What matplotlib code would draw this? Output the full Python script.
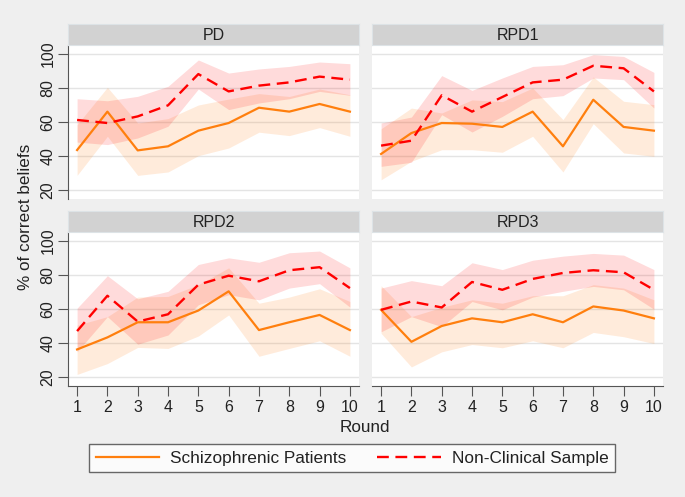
import numpy as np
import matplotlib
matplotlib.use('Agg')
import matplotlib.pyplot as plt

plt.rcParams['font.family'] = ['Liberation Sans', 'DejaVu Sans']
plt.rcParams['font.size'] = 12

rounds = np.arange(1, 11)
panels = ['PD', 'RPD1', 'RPD2', 'RPD3']

# Schizophrenic patients: mean, lower CI, upper CI
sz_mean = {
    'PD':   [43.5, 66.1, 43.3, 45.7, 54.9, 59.4, 68.4, 66.1, 70.6, 66.1],
    'RPD1': [41.2, 53.5, 59.4, 59.0, 57.1, 66.1, 45.7, 73.1, 57.1, 54.9],
    'RPD2': [36.2, 43.3, 52.2, 52.2, 59.1, 70.4, 47.6, 52.2, 56.5, 47.6],
    'RPD3': [59.5, 40.7, 50.0, 54.5, 52.2, 56.9, 52.2, 61.5, 59.1, 54.5],
}
sz_low = {
    'PD':   [28.6, 51.6, 28.6, 30.6, 40.2, 44.7, 54.0, 52.0, 56.7, 51.6],
    'RPD1': [26.0, 36.9, 43.7, 43.7, 42.2, 51.6, 30.6, 59.0, 41.8, 39.8],
    'RPD2': [21.5, 27.9, 37.4, 36.8, 44.1, 56.5, 32.2, 36.8, 41.3, 32.2],
    'RPD3': [45.7, 25.9, 34.8, 39.1, 37.2, 41.3, 37.2, 46.2, 43.7, 39.7],
}
sz_high = {
    'PD':   [58.4, 80.4, 59.4, 62.0, 70.0, 73.5, 76.7, 75.0, 79.4, 76.0],
    'RPD1': [56.0, 68.2, 65.3, 73.0, 72.0, 80.0, 61.4, 86.5, 72.2, 70.2],
    'RPD2': [50.5, 55.5, 67.0, 67.4, 74.3, 84.2, 63.4, 67.0, 71.9, 64.4],
    'RPD3': [73.7, 55.5, 61.0, 65.4, 63.4, 67.8, 67.8, 74.3, 72.3, 65.4],
}

# Non-clinical sample: mean, lower CI, upper CI
nc_mean = {
    'PD':   [61.2, 59.4, 63.3, 69.8, 88.2, 78.0, 81.4, 83.3, 86.7, 84.9],
    'RPD1': [46.1, 49.0, 75.7, 66.1, 74.7, 83.3, 84.9, 93.1, 91.6, 78.0],
    'RPD2': [47.0, 67.8, 52.6, 56.9, 74.3, 79.6, 76.3, 82.8, 84.6, 72.3],
    'RPD3': [59.5, 64.4, 60.9, 75.9, 71.3, 77.7, 81.2, 82.8, 81.6, 71.3],
}
nc_low = {
    'PD':   [48.2, 46.7, 50.6, 57.5, 79.4, 67.3, 71.2, 73.7, 78.0, 75.7],
    'RPD1': [33.9, 36.3, 64.3, 54.1, 63.3, 73.7, 75.5, 85.9, 84.9, 68.2],
    'RPD2': [34.8, 55.5, 39.3, 44.7, 62.5, 68.4, 65.4, 72.3, 74.9, 61.1],
    'RPD3': [46.6, 55.5, 49.6, 64.4, 59.5, 67.0, 70.4, 73.3, 71.3, 59.9],
}
nc_high = {
    'PD':   [73.7, 72.5, 75.1, 81.0, 96.5, 88.8, 91.2, 92.7, 95.3, 94.3],
    'RPD1': [59.4, 62.9, 87.3, 78.6, 85.9, 92.7, 93.7, 99.6, 98.6, 89.2],
    'RPD2': [60.5, 79.6, 66.0, 70.4, 86.2, 90.1, 87.5, 93.1, 94.1, 84.2],
    'RPD3': [72.3, 76.7, 73.7, 87.2, 83.2, 88.7, 91.1, 92.7, 91.7, 83.2],
}

orange = '#ff7f0e'
red = '#ff0000'
W, H = 685, 497

fig = plt.figure(figsize=(W / 100, H / 100), dpi=100, facecolor='#efefef')

# pixel boxes: (left, top of plot, right, bottom of plot)
boxes = {
    'PD':   (68, 45, 359, 199),
    'RPD1': (372, 45, 663, 199),
    'RPD2': (68, 232, 359, 386),
    'RPD3': (372, 232, 663, 386),
}
header_h = 21

for i, name in enumerate(panels):
    l, t, r, b = boxes[name]
    ax = fig.add_axes([l / W, (H - b) / H, (r - l) / W, (b - t) / H])
    ax.set_facecolor('white')

    ax.fill_between(rounds, sz_low[name], sz_high[name], color=orange, alpha=0.15, lw=0)
    ax.fill_between(rounds, nc_low[name], nc_high[name], color=red, alpha=0.14, lw=0)
    ax.plot(rounds, sz_mean[name], color=orange, lw=1.6, label='Schizophrenic Patients')
    ax.plot(rounds, nc_mean[name], color=red, lw=1.7, ls=(0, (5, 2.8)), label='Non-Clinical Sample')

    ax.set_xlim(0.7, 10.3)
    ax.set_ylim(14.7, 105.3)
    ax.set_yticks([20, 40, 60, 80, 100])
    ax.grid(axis='y', color='#e4e4e4', lw=1)
    ax.set_axisbelow(True)
    for s in ['top', 'right']:
        ax.spines[s].set_visible(False)

    left_col = i % 2 == 0
    bottom_row = i >= 2
    if left_col:
        ax.spines['left'].set_color('#555555')
        ax.tick_params(axis='y', length=7, color='#555555', labelsize=11.5, pad=2,
                       labelcolor='#222222')
        for lab in ax.get_yticklabels():
            lab.set_rotation(90)
            lab.set_va('center')
    else:
        ax.spines['left'].set_visible(False)
        ax.tick_params(axis='y', length=0, labelleft=False)
    if bottom_row:
        ax.spines['bottom'].set_color('#555555')
        ax.set_xticks(rounds)
        ax.tick_params(axis='x', length=7, color='#555555', labelsize=11.5, pad=3,
                       labelcolor='#222222')
    else:
        ax.spines['bottom'].set_visible(False)
        ax.tick_params(axis='x', length=0, labelbottom=False)

    # panel header strip
    hx = fig.add_axes([l / W, (H - t) / H, (r - l) / W, header_h / H])
    hx.set_facecolor('#d2d2d2')
    hx.set_xticks([])
    hx.set_yticks([])
    for s in hx.spines.values():
        s.set_color('#dde3e6')
    hx.text(0.5, 0.45, name, ha='center', va='center', fontsize=11.5, color='#222222',
            transform=hx.transAxes)

fig.text(26 / W, 1 - 217 / H, '% of correct beliefs', rotation=90, ha='center', va='center',
         fontsize=12.3, color='#222222')
fig.text(365 / W, 1 - 427 / H, 'Round', ha='center', va='center', fontsize=12.3, color='#222222')

handles, labels = ax.get_legend_handles_labels()
leg = fig.legend(handles, labels, loc='center', bbox_to_anchor=(352 / W, 1 - 458 / H), ncol=2,
                 fontsize=12.4, frameon=True, fancybox=False, edgecolor='#444444',
                 handlelength=3.7, columnspacing=1.75, borderpad=0.35, handletextpad=0.65)
leg.get_frame().set_linewidth(1.0)
for txt in leg.get_texts():
    txt.set_color('#222222')

fig.savefig('out.png', dpi=100, facecolor=fig.get_facecolor())
